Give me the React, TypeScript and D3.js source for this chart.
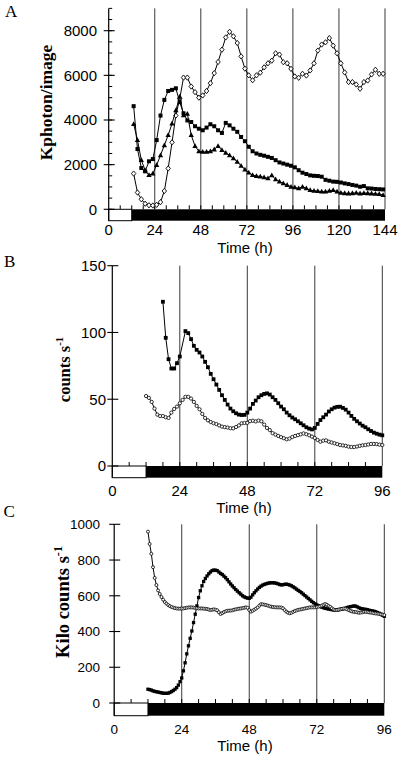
import React from "react";
import * as d3 from "d3";

// ---------------- Panel A (Kphoton/image, 0-144 h) ----------------
const A_X_TICKS = [0, 24, 48, 72, 96, 120, 144];
const A_Y_TICKS = [0, 2000, 4000, 6000, 8000];
const A_START = 13; // h, first sample
const A_STEP = 2; // h between samples
const A_SQUARES = [
  4620, 2700, 1850, 1700, 2150, 2250, 3100, 4200, 4900, 5300,
  5350, 5420, 4800, 4300, 3980, 3910, 3720, 3610, 3540, 3660,
  3810, 3720, 3540, 3420, 3870, 3760, 3610, 3470, 3240, 3050,
  2800, 2600, 2500, 2440, 2400, 2350, 2300, 2200, 2100, 2050,
  2000, 1950, 1880, 1750, 1640, 1580, 1520, 1500, 1490, 1460,
  1320, 1280, 1240, 1230, 1200, 1160, 1130, 1090, 1060, 1010,
  1040, 940, 930, 910, 900, 890,
];
const A_TRIANGLES = [
  3820, 3100, 2200, 1750, 1530, 1600, 1980, 2420, 2870, 3320,
  3840, 4430, 5050, 4210, 4280, 3320, 2830, 2600, 2570, 2570,
  2600, 2680, 2830, 2650, 2530, 2420, 2280, 2130, 1950, 1780,
  1640, 1530, 1490, 1470, 1430, 1390, 1520, 1340, 1240, 1160,
  1090, 1010, 980, 940, 1010, 940, 860, 830, 820, 790,
  790, 830, 860, 790, 740, 720, 710, 720, 740, 710,
  730, 720, 710, 690, 680, 640,
];
const A_DIAMONDS = [
  1600, 750, 450, 250, 180, 170, 200, 320, 820, 1830,
  3000, 4200, 4950, 5900, 5900, 5500, 5250, 5000, 5100, 5300,
  5650, 6100, 6600, 7150, 7700, 7950, 7750, 7450, 6850, 6300,
  6000, 5780, 6000, 6120, 6360, 6540, 6660, 6990, 6930, 6590,
  6540, 6290, 5950, 5890, 6070, 5990, 6220, 6540, 7110, 7380,
  7480, 7670, 7330, 6990, 6540, 6130, 5700, 5700, 5590, 5400,
  5700, 5770, 6040, 6250, 6070, 6070,
];

// ---------------- Panel B (counts s-1, 0-96 h) ----------------
const B_X_TICKS = [0, 24, 48, 72, 96];
const B_Y_TICKS = [0, 50, 100, 150];
const B_SQ_START = 18;
const B_SQ_STEP = 1;
const B_SQUARES = [
  123, 96, 80, 73, 73, 77, 82, null, 101, 99.5,
  95, 90, 87, 85, 82, 78, 74, 69, 65, 61,
  57, 53, 49.5, 46, 43, 41, 39.5, 38.5, 38.2, 38.3,
  40, 43, 46.5, 49, 51.5, 53, 54, 54.4, 53.5, 51.5,
  49.5, 47, 44.5, 42.5, 40, 38, 36.3, 35, 33.5, 32,
  30.5, 29, 28, 27.4, 28.5, 31.5, 34.4, 36.5, 38.5, 40.8,
  42.5, 43.7, 44.3, 44.4, 43.5, 42.2, 40, 37.5, 35.3, 33.5,
  31.8, 30.2, 29, 27.5, 26.2, 25, 24.2, 23.5, 23,
];
const B_CI_START = 12;
const B_CI_STEP = 1;
const B_CIRCLES = [
  52.4, 51, 48, 43, 38.5, 37.4, 37.4, 36.5, 36, 40,
  42.7, 44.5, 47, 49.5, 51.8, 51.8, 50.5, 48, 45, 42.5,
  39, 36, 34.2, 32.9, 32, 31.4, 30.4, 29.5, 29.1, 28.8,
  28.3, 28.2, 29.2, 30.4, 32, 32.2, 32.3, 33.6, 33.9, 33.4,
  34, 33.5, 31, 28.5, 26.9, 24.6, 23.5, 22.5, 21.6, 20.8,
  20, 20.5, 21.7, 22.5, 23.1, 23.7, 24.4, 23.8, 23, 22,
  21, 19.5, 18.2, 19, 19.2, 18.2, 17.6, 17, 16.4, 15.7,
  15.4, 15.1, 14.5, 14.2, 14.2, 14.6, 15.1, 15.5, 15.7, 16.1,
  16.5, 16.5, 16.4, 16, 15.7,
];

// ---------------- Panel C (Kilo counts s-1, 0-96 h) ----------------
const C_X_TICKS = [0, 24, 48, 72, 96];
const C_Y_TICKS = [0, 200, 400, 600, 800, 1000];
const C_START = 12;
const C_STEP = 0.6;
const C_SQUARES = [
  77, 75, 72, 68, 65, 63, 61, 59, 57, 55,
  54, 54, 55, 59, 64, 70, 77, 86, 100, 119,
  140, 180, 225, 275, 320, 362, 403, 450, 497, 543,
  590, 628, 656, 680, 697, 711, 723, 733, 741, 744,
  743, 741, 733, 725, 719, 710, 701, 690, 678, 666,
  655, 645, 635, 626, 617, 609, 600, 594, 590, 587,
  586,
  592, 605, 617, 628, 638, 647, 654, 660, 664, 667,
  670, 672, 673, 673, 672, 670, 667, 663, 661, 662,
  664, 665, 663, 660, 656, 650, 644, 637, 630, 624,
  617, 609, 601, 593, 585, 577, 569, 561, 555, 549,
  544, 540, 536, 533, 530, 528, 526, 524, 522, 521,
  520, 521, 522, 524, 526, 528, 530, 534, 537, 539,
  541, 543, 542, 538, 533, 529, 527, 525, 524, 522,
  519, 517, 515, 513, 510, 506, 502, 497, 491, 485,
];
const C_CIRCLES = [
  959, 890, 835, 760, 700, 660, 630, 610, 593, 578,
  565, 556, 548, 542, 537, 534, 531, 529, 528, 528,
  529, 529, 531, 533, 535, 535, 535, 534, 532, 530,
  529, 529, 529, 528, 527, 526, 523, 520, 522, 524,
  522, 519, 508, 498, 503, 509, 513, 516, 517, 517,
  519, 522, 524, 526, 528, 529, 531, 533, 535, 533,
  520,
  511, 516, 522, 528, 535, 545, 553, 552, 550, 548,
  545, 542, 539, 537, 536, 535, 535, 535, 534, 530,
  520, 511, 505, 502, 505, 510, 515, 518, 521, 523,
  525, 527, 529, 531, 533, 535, 535, 535, 535, 537,
  539, 541, 545, 550, 554, 550, 543, 538, 530, 523,
  520, 521, 523, 525, 527, 529, 528, 524, 519, 515,
  512, 510, 509, 507, 505, 506, 508, 510, 510, 509,
  507, 506, 504, 502, 501, 500, 498, 496, 494, 492,
];

const DARK_START = 12; // h, lights off

const SANS = "'Liberation Sans', Arial, Helvetica, sans-serif";
const SERIF = "'Liberation Serif', 'Times New Roman', Times, serif";

type Marker = "square" | "triangle" | "diamond" | "circle";
interface Series {
  values: (number | null)[];
  start: number;
  step: number;
  marker: Marker;
  size: number;
}
interface PanelCfg {
  letter: string;
  letterX: number;
  letterY: number;
  left: number;
  right: number;
  xMax: number;
  xTicks: number[];
  zeroY: number;
  refVal: number;
  refY: number;
  yMax: number;
  yTicks: number[];
  yMinor?: number;
  barH: number;
  tickFont: number;
  yLabelEnd: number;
  xLabelY: number;
  titleX: number;
  titleY: number;
  yTitle: string;
  yTitleSup?: string;
  yTitleX: number;
  yTitleY: number;
  yTitleFont: number;
  series: Series[];
}

function marker(shape: Marker, cx: number, cy: number, s: number, key: string) {
  if (shape === "square")
    return <rect key={key} x={cx - s / 2} y={cy - s / 2} width={s} height={s} fill="#000" />;
  if (shape === "triangle") {
    const w = s * 1.15;
    return (
      <path
        key={key}
        d={`M${cx},${cy - s * 0.62}L${cx + w / 2},${cy + s * 0.42}L${cx - w / 2},${cy + s * 0.42}Z`}
        fill="#000"
      />
    );
  }
  if (shape === "diamond")
    return (
      <path
        key={key}
        d={`M${cx},${cy - s * 0.6}L${cx + s * 0.5},${cy}L${cx},${cy + s * 0.6}L${cx - s * 0.5},${cy}Z`}
        fill="#fff"
        stroke="#000"
        strokeWidth={0.9}
      />
    );
  return <circle key={key} cx={cx} cy={cy} r={s / 2} fill="#fff" stroke="#000" strokeWidth={0.8} />;
}

function Panel({ cfg }: { cfg: PanelCfg }) {
  const x = d3.scaleLinear().domain([0, cfg.xMax]).range([cfg.left, cfg.right]);
  const y = d3.scaleLinear().domain([0, cfg.refVal]).range([cfg.zeroY, cfg.refY]);
  const top = y(cfg.yMax);
  const minorX = d3.range(6, cfg.xMax, 6);
  const minorY = cfg.yMinor ? d3.range(0, cfg.yMax + 0.001, cfg.yMinor) : [];
  const line = d3
    .line<{ t: number; v: number }>()
    .x((d) => x(d.t))
    .y((d) => y(d.v));

  return (
    <g>
      <text x={cfg.letterX} y={cfg.letterY} fontFamily={SERIF} fontSize={17}>
        {cfg.letter}
      </text>
      {cfg.xTicks
        .filter((t) => t > 0)
        .map((t) => (
          <line key={"v" + t} x1={x(t)} x2={x(t)} y1={top} y2={cfg.zeroY} stroke="#222" strokeWidth={0.9} />
        ))}
      {minorX.map((t) => (
        <line key={"mx" + t} x1={x(t)} x2={x(t)} y1={cfg.zeroY} y2={cfg.zeroY - 4} stroke="#000" strokeWidth={1} />
      ))}
      <rect
        x={x(0)}
        y={cfg.zeroY}
        width={x(DARK_START) - x(0)}
        height={cfg.barH}
        fill="#fff"
        stroke="#000"
        strokeWidth={1}
      />
      <rect x={x(DARK_START)} y={cfg.zeroY} width={x(cfg.xMax) - x(DARK_START)} height={cfg.barH} fill="#000" />
      <line x1={x(0)} x2={x(0)} y1={top} y2={cfg.zeroY + cfg.barH} stroke="#000" strokeWidth={1.2} />
      {minorY.map((v) => (
        <line key={"my" + v} x1={x(0)} x2={x(0) + 3.5} y1={y(v)} y2={y(v)} stroke="#000" strokeWidth={1} />
      ))}
      {cfg.yTicks.map((v) => (
        <g key={"yt" + v}>
          <line x1={x(0) - 5} x2={x(0) + 6} y1={y(v)} y2={y(v)} stroke="#000" strokeWidth={1.1} />
          <text
            x={cfg.yLabelEnd}
            y={y(v)}
            dy="0.36em"
            textAnchor="end"
            fontFamily={SANS}
            fontSize={cfg.tickFont}
          >
            {v}
          </text>
        </g>
      ))}
      {cfg.xTicks.map((t) => (
        <text key={"xt" + t} x={x(t)} y={cfg.xLabelY} textAnchor="middle" fontFamily={SANS} fontSize={cfg.tickFont}>
          {t}
        </text>
      ))}
      <text x={cfg.titleX} y={cfg.titleY} textAnchor="middle" fontFamily={SANS} fontSize={15}>
        Time (h)
      </text>
      <text
        transform={`translate(${cfg.yTitleX},${cfg.yTitleY}) rotate(-90)`}
        textAnchor="middle"
        fontFamily={SERIF}
        fontWeight="bold"
        fontSize={cfg.yTitleFont}
      >
        {cfg.yTitle}
        {cfg.yTitleSup ? (
          <tspan dy={-cfg.yTitleFont * 0.4} fontSize={cfg.yTitleFont * 0.65}>
            {cfg.yTitleSup}
          </tspan>
        ) : null}
      </text>
      {cfg.series.map((s, si) => {
        const pts = s.values
          .map((v, i) => ({ t: s.start + i * s.step, v }))
          .filter((p) => p.v !== null) as { t: number; v: number }[];
        return (
          <g key={"s" + si}>
            <path d={line(pts) || ""} fill="none" stroke="#000" strokeWidth={1} />
            {pts.map((p, i) => marker(s.marker, x(p.t), y(p.v), s.size, si + "-" + i))}
          </g>
        );
      })}
    </g>
  );
}

const PANELS: PanelCfg[] = [
  {
    letter: "A",
    letterX: 5,
    letterY: 17,
    left: 108.7,
    right: 385,
    xMax: 144,
    xTicks: A_X_TICKS,
    zeroY: 209.3,
    refVal: 8000,
    refY: 30.7,
    yMax: 9000,
    yTicks: A_Y_TICKS,
    yMinor: 500,
    barH: 11.4,
    tickFont: 15,
    yLabelEnd: 97,
    xLabelY: 235,
    titleX: 245,
    titleY: 253,
    yTitle: "Kphoton/image",
    yTitleX: 52,
    yTitleY: 102.5,
    yTitleFont: 17.5,
    series: [
      { values: A_DIAMONDS, start: A_START, step: A_STEP, marker: "diamond", size: 4.4 },
      { values: A_TRIANGLES, start: A_START, step: A_STEP, marker: "triangle", size: 4.6 },
      { values: A_SQUARES, start: A_START, step: A_STEP, marker: "square", size: 4 },
    ],
  },
  {
    letter: "B",
    letterX: 4,
    letterY: 267,
    left: 112.3,
    right: 382.3,
    xMax: 96,
    xTicks: B_X_TICKS,
    zeroY: 466,
    refVal: 150,
    refY: 265.7,
    yMax: 150,
    yTicks: B_Y_TICKS,
    barH: 11.7,
    tickFont: 15,
    yLabelEnd: 106,
    xLabelY: 496,
    titleX: 244,
    titleY: 513,
    yTitle: "counts s",
    yTitleSup: "-1",
    yTitleX: 70,
    yTitleY: 369.5,
    yTitleFont: 16.5,
    series: [
      { values: B_CIRCLES, start: B_CI_START, step: B_CI_STEP, marker: "circle", size: 3.3 },
      { values: B_SQUARES, start: B_SQ_START, step: B_SQ_STEP, marker: "square", size: 3.8 },
    ],
  },
  {
    letter: "C",
    letterX: 3.5,
    letterY: 517,
    left: 114.2,
    right: 384.3,
    xMax: 96,
    xTicks: C_X_TICKS,
    zeroY: 703,
    refVal: 1000,
    refY: 524.3,
    yMax: 1000,
    yTicks: C_Y_TICKS,
    barH: 12.7,
    tickFont: 13.5,
    yLabelEnd: 100,
    xLabelY: 734,
    titleX: 245,
    titleY: 751,
    yTitle: "Kilo counts s",
    yTitleSup: "-1",
    yTitleX: 69,
    yTitleY: 602,
    yTitleFont: 18.5,
    series: [
      { values: C_SQUARES, start: C_START, step: C_STEP, marker: "square", size: 3.3 },
      { values: C_CIRCLES, start: C_START, step: C_STEP, marker: "circle", size: 3 },
    ],
  },
];

export default function App() {
  return (
    <svg
      width={400}
      height={758}
      viewBox="0 0 400 758"
      style={{ position: "absolute", left: 0, top: 0, background: "#fff" }}
    >
      {PANELS.map((p) => (
        <Panel key={p.letter} cfg={p} />
      ))}
    </svg>
  );
}
